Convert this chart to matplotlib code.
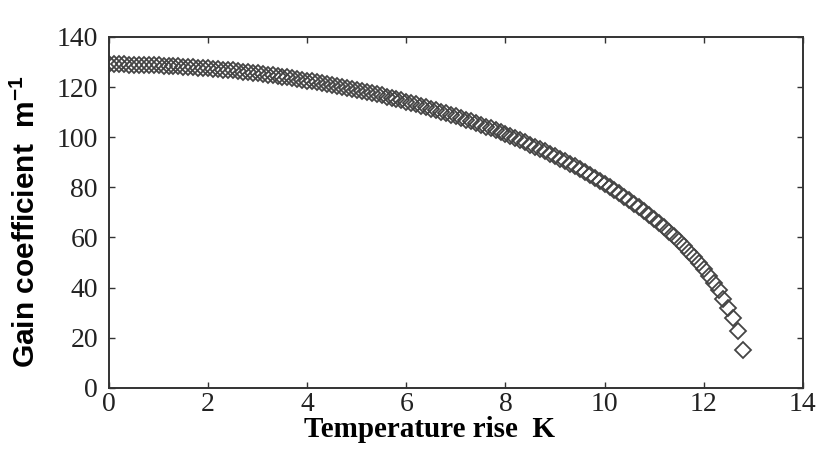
import matplotlib
matplotlib.use("Agg")
import matplotlib.pyplot as plt

# temperature rise (K) and gain coefficient (1/m)
temp_rise = [0.0, 0.1, 0.2, 0.3, 0.4, 0.5, 0.6, 0.7, 0.8, 0.9,
             1.0, 1.1, 1.2, 1.3, 1.4, 1.5, 1.6, 1.7, 1.8, 1.9,
             2.0, 2.1, 2.2, 2.3, 2.4, 2.5, 2.6, 2.7, 2.8, 2.9,
             3.0, 3.1, 3.2, 3.3, 3.4, 3.5, 3.6, 3.7, 3.8, 3.9,
             4.0, 4.1, 4.2, 4.3, 4.4, 4.5, 4.6, 4.7, 4.8, 4.9,
             5.0, 5.1, 5.2, 5.3, 5.4, 5.5, 5.6, 5.7, 5.8, 5.9,
             6.0, 6.1, 6.2, 6.3, 6.4, 6.5, 6.6, 6.7, 6.8, 6.9,
             7.0, 7.1, 7.2, 7.3, 7.4, 7.5, 7.6, 7.7, 7.8, 7.9,
             8.0, 8.1, 8.2, 8.3, 8.4, 8.5, 8.6, 8.7, 8.8, 8.9,
             9.0, 9.1, 9.2, 9.3, 9.4, 9.5, 9.6, 9.7, 9.8, 9.9,
             10.0, 10.1, 10.2, 10.3, 10.4, 10.5, 10.6, 10.7, 10.8, 10.9,
             11.0, 11.1, 11.2, 11.3, 11.4, 11.5, 11.6, 11.7, 11.8, 11.9,
             12.0, 12.1, 12.2, 12.3, 12.4, 12.5, 12.6, 12.7, 12.8]
gain = [129.0, 129.0, 129.0, 129.0, 128.9, 128.9, 128.9, 128.8, 128.8, 128.7,
        128.6, 128.5, 128.4, 128.3, 128.2, 128.1, 128.0, 127.9, 127.7, 127.6,
        127.4, 127.3, 127.1, 126.9, 126.7, 126.6, 126.4, 126.1, 125.9, 125.7,
        125.5, 125.2, 125.0, 124.7, 124.4, 124.2, 123.9, 123.6, 123.3, 123.0,
        122.6, 122.3, 122.0, 121.6, 121.3, 120.9, 120.5, 120.1, 119.7, 119.3,
        118.9, 118.5, 118.1, 117.6, 117.2, 116.7, 116.2, 115.7, 115.2, 114.7,
        114.2, 113.7, 113.1, 112.6, 112.0, 111.4, 110.8, 110.2, 109.6, 109.0,
        108.4, 107.7, 107.0, 106.4, 105.7, 105.0, 104.2, 103.5, 102.8, 102.0,
        101.2, 100.4, 99.6, 98.8, 97.9, 97.0, 96.2, 95.3, 94.3, 93.4,
        92.4, 91.4, 90.4, 89.4, 88.4, 87.3, 86.2, 85.0, 83.9, 82.7,
        81.5, 80.3, 79.0, 77.7, 76.3, 74.9, 73.5, 72.1, 70.6, 69.0,
        67.4, 65.7, 64.0, 62.2, 60.4, 58.5, 56.4, 54.3, 52.1, 49.8,
        47.3, 44.7, 41.9, 38.9, 35.6, 31.9, 27.7, 22.6, 15.0]

x_ticks = [0, 2, 4, 6, 8, 10, 12, 14]
y_ticks = [0, 20, 40, 60, 80, 100, 120, 140]

plt.rcParams['mathtext.default'] = 'regular'

fig = plt.figure(figsize=(8.2, 4.5), dpi=100)
ax = fig.add_axes([0.133, 0.138, 0.846, 0.78])

ax.plot(temp_rise, gain, linestyle='none', marker='D', markersize=8.5,
        markerfacecolor='none', markeredgecolor='#444444', markeredgewidth=1.3)

ax.set_xlim(0, 14)
ax.set_ylim(0, 140)
ax.set_xticks(x_ticks)
ax.set_yticks(y_ticks)
ax.tick_params(direction='in', top=True, right=True, length=4, width=1,
               color='#333333')
ax.tick_params(axis='x', pad=3)
ax.tick_params(axis='y', pad=8)
for lab in ax.get_xticklabels() + ax.get_yticklabels():
    lab.set_fontfamily('Liberation Serif')
    lab.set_fontsize(20)
    lab.set_color('#222222')
for sp in ax.spines.values():
    sp.set_linewidth(1.4)
    sp.set_color('#333333')

ax.set_xlabel('Temperature rise  K', fontfamily='Liberation Serif',
              fontweight='bold', fontsize=21)
ax.xaxis.set_label_coords(0.4625, -0.08)
ax.set_ylabel('Gain coefficient  m$^{-1}$', fontfamily='Liberation Sans',
              fontweight='bold', fontsize=21.5)
ax.yaxis.set_label_coords(-0.098, 0.475)

fig.savefig('out.png', dpi=100)
